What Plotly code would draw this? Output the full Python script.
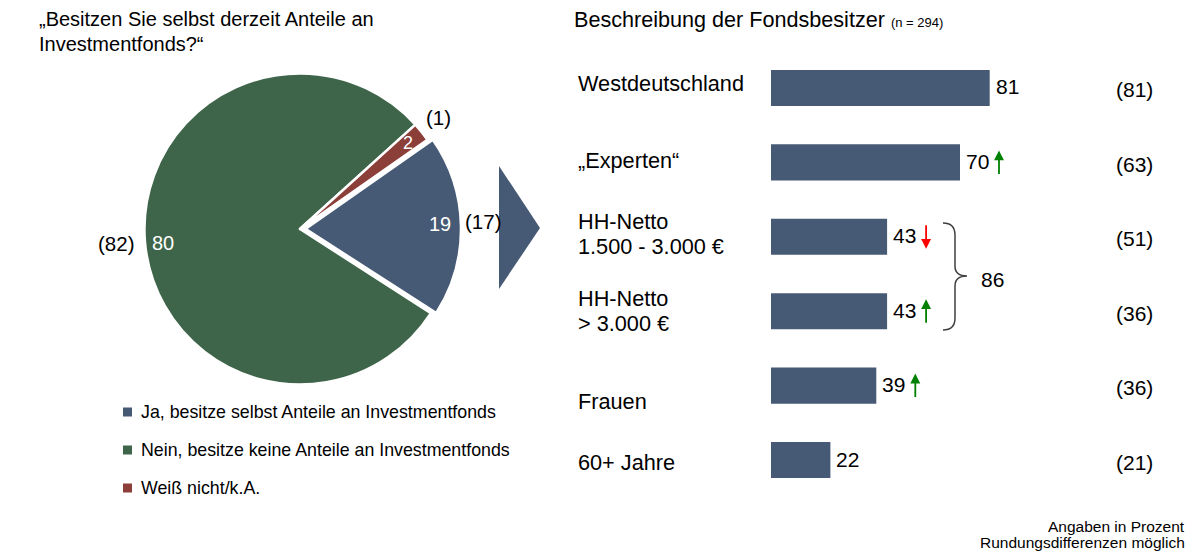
import plotly.graph_objects as go

W, H = 1193, 554
FONT = "Arial, 'Liberation Sans', sans-serif"

# ---------------- data ----------------
pie_labels = ["Ja, besitze selbst Anteile an Investmentfonds",
              "Nein, besitze keine Anteile an Investmentfonds",
              "Weiß nicht/k.A."]
pie_values = [19, 80, 2]
pie_prev = ["(17)", "(82)", "(1)"]
pie_colors = ["#475a75", "#3e6549", "#8c3e38"]

bar_categories = ["Westdeutschland", "„Experten“", "HH-Netto<br>1.500 - 3.000 €",
                  "HH-Netto<br>> 3.000 €", "Frauen", "60+ Jahre"]
bar_values = [81, 70, 43, 43, 39, 22]
bar_prev = ["(81)", "(63)", "(51)", "(36)", "(36)", "(21)"]
bar_trend = ["", "up", "down", "up", "up", ""]
brace_total = "86"

title_left = ["„Besitzen Sie selbst derzeit Anteile an", "Investmentfonds?“"]
title_right = "Beschreibung der Fondsbesitzer"
title_right_n = "(n = 294)"
footer = ["Angaben in Prozent", "Rundungsdifferenzen möglich"]


def px(x):
    return x / W


def py(y):
    return 1 - y / H


fig = go.Figure()

# ---------------- pie ----------------
pc_x, pc_y, half = 300, 229, 161
fig.add_trace(go.Pie(
    labels=pie_labels, values=pie_values, sort=False, direction="clockwise",
    rotation=55, pull=[0.035, 0, 0],
    marker=dict(colors=pie_colors, line=dict(color="white", width=2.5)),
    textinfo="none", hoverinfo="label+value", showlegend=False,
    domain=dict(x=[px(pc_x - half), px(pc_x + half)], y=[py(pc_y + half), py(pc_y - half)]),
))

# ---------------- bars ----------------
fig.add_trace(go.Bar(
    y=bar_categories, x=bar_values, orientation="h", width=0.485,
    marker=dict(color="#475a75", line=dict(width=0)),
    xaxis="x", yaxis="y", showlegend=False, hoverinfo="x+y",
))

x0_px = 771
scale = 2.7
fig.update_layout(
    width=W, height=H, margin=dict(l=0, r=0, t=0, b=0),
    paper_bgcolor="white", plot_bgcolor="white",
    font=dict(family=FONT, color="black"),
    xaxis=dict(domain=[px(x0_px), 1], range=[0, (W - x0_px) / scale], visible=False, fixedrange=True),
    yaxis=dict(domain=[py(88 + 37.2 + 5 * 74.4), py(88 - 37.2)], type="category",
               categoryorder="array", categoryarray=bar_categories,
               range=[5.5, -0.5], visible=False, fixedrange=True),
    showlegend=False,
)

ann = []
shapes = []

# titles
ann.append(dict(x=px(37), y=py(19), text=title_left[0], xanchor="left", yanchor="middle",
                font=dict(size=20)))
ann.append(dict(x=px(37), y=py(44), text=title_left[1], xanchor="left", yanchor="middle",
                font=dict(size=20)))
ann.append(dict(x=px(572), y=py(19),
                text=f"{title_right} <span style='font-size:13px'>{title_right_n}</span>",
                xanchor="left", yanchor="middle", font=dict(size=21.6)))

# pie value labels (inside, white) and previous values (black)
pie_val_pos = [(440, 224, 20), (163, 243, 20), (408, 143, 18)]
pie_prev_pos = [(483, 222), (116, 243), (438, 117)]
for v, (x, y, fs) in zip(pie_values, pie_val_pos):
    ann.append(dict(x=px(x), y=py(y), text=str(v), font=dict(size=fs, color="white"),
                    xanchor="center", yanchor="middle"))
for t, (x, y) in zip(pie_prev, pie_prev_pos):
    ann.append(dict(x=px(x), y=py(y), text=t, font=dict(size=20.5),
                    xanchor="center", yanchor="middle"))

# legend (manual)
for i, (lab, col) in enumerate(zip(pie_labels, pie_colors)):
    yc = 412 + i * 38
    shapes.append(dict(type="rect", xref="paper", yref="paper",
                       x0=px(123), x1=px(132), y0=py(yc + 4.5), y1=py(yc - 4.5),
                       fillcolor=col, line=dict(width=0)))
    ann.append(dict(x=px(139), y=py(yc), text=lab, xanchor="left", yanchor="middle",
                    font=dict(size=17.8)))

# big triangle arrow
shapes.append(dict(type="path", xref="paper", yref="paper",
                   path=f"M {px(499)},{py(166)} L {px(540)},{py(228)} L {px(499)},{py(289)} Z",
                   fillcolor="#475a75", line=dict(width=0)))

# category labels
label_y = [84, 160, None, None, 401, 462]
multi_y = {2: (222, 246), 3: (298, 323)}
for i, cat in enumerate(bar_categories):
    lines = cat.split("<br>")
    ys = multi_y[i] if len(lines) > 1 else (label_y[i],)
    for ln, y in zip(lines, ys):
        ann.append(dict(x=px(576), y=py(y), text=ln, xanchor="left", yanchor="middle",
                        font=dict(size=21.7)))

# value labels, trend arrows, previous values
for i, (cat, v, prev, tr) in enumerate(zip(bar_categories, bar_values, bar_prev, bar_trend)):
    ann.append(dict(x=v, y=cat, xref="x", yref="y", text=str(v), xanchor="left",
                    yanchor="middle", xshift=4, yshift=1, font=dict(size=21)))
    ann.append(dict(x=px(1134), y=py(88 + i * 74.4 + 2), text=prev, xanchor="center",
                    yanchor="middle", font=dict(size=21)))
    if tr:
        col = "#008000" if tr == "up" else "#ff0000"
        sign = 1 if tr == "up" else -1
        ann.append(dict(x=v, y=cat, xref="x", yref="y", text="", showarrow=True,
                        xshift=39, yshift=sign * 12, ax=0, ay=sign * 25,
                        arrowhead=2, arrowsize=1.1, arrowwidth=1.8, arrowcolor=col))

# brace and total
bx0, bx1, btip = 943, 955, 967
brace = (f"M {px(bx0)},{py(223)} Q {px(bx1)},{py(223)} {px(bx1)},{py(235)} "
         f"L {px(bx1)},{py(266)} Q {px(bx1)},{py(276)} {px(btip)},{py(276)} "
         f"Q {px(bx1)},{py(276)} {px(bx1)},{py(286)} "
         f"L {px(bx1)},{py(318)} Q {px(bx1)},{py(330)} {px(bx0)},{py(330)}")
shapes.append(dict(type="path", xref="paper", yref="paper", path=brace,
                   line=dict(color="#404040", width=1.5)))
ann.append(dict(x=px(992), y=py(279), text=brace_total, xanchor="center", yanchor="middle",
                font=dict(size=21)))

# footer
ann.append(dict(x=px(1187), y=py(526), text=footer[0], xanchor="right", yanchor="middle",
                font=dict(size=15.5)))
ann.append(dict(x=px(1187), y=py(542), text=footer[1], xanchor="right", yanchor="middle",
                font=dict(size=15.5)))

for a in ann:
    a.setdefault("xref", "paper")
    a.setdefault("yref", "paper")
    a.setdefault("showarrow", False)

fig.update_layout(annotations=ann, shapes=shapes)
fig.write_html("out.html", config={"displayModeBar": False},
               post_script="document.body.style.margin='0';document.body.style.padding='0';")
